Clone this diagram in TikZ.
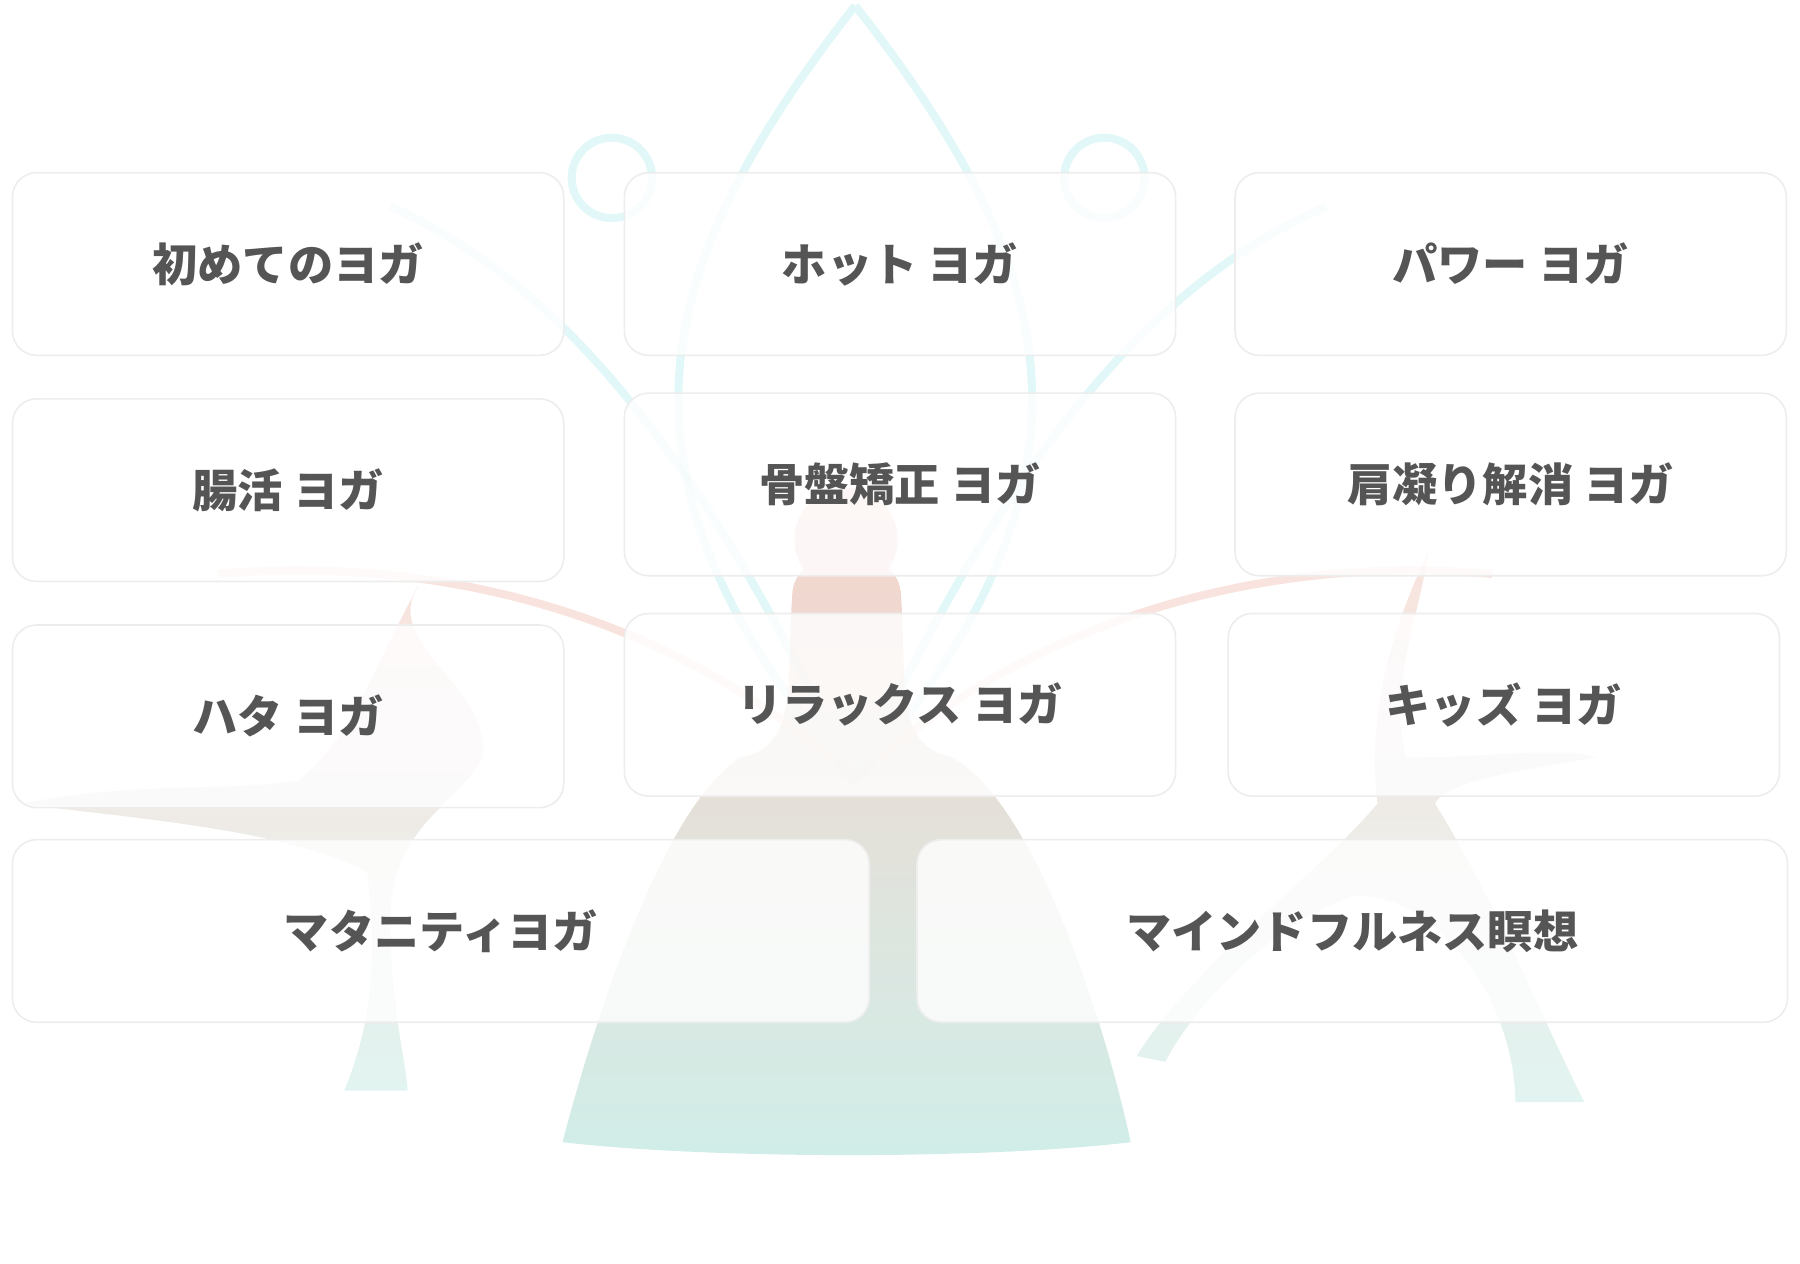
\documentclass[tikz,border=0pt]{standalone}
\usepackage{fontspec}
\newfontfamily\cjk{Noto Sans CJK JP}
\usetikzlibrary{positioning}
\definecolor{labelgray}{HTML}{555555}
\definecolor{lotusteal}{HTML}{BFEDEE}
\definecolor{figtop}{HTML}{F2C2B5}
\definecolor{figbot}{HTML}{BDE6DF}
\tikzset{
  classbox/.style={draw=black!7, fill=white, fill opacity=0.82, text opacity=1,
    rounded corners=6pt, minimum width=4.8cm, minimum height=1.59cm, inner sep=0pt,
    font=\cjk\bfseries\fontsize{11.2}{14}\selectfont, text=labelgray},
  widebox/.style={classbox, minimum width=7.46cm},
  lotus/.style={draw=lotusteal, line width=2pt, opacity=0.45}
}
\begin{document}
\begin{tikzpicture}[x=0.01cm, y=-0.01cm]
  \useasboundingbox (0,0) rectangle (1568,1101);

  % lotus outline behind
  \draw[lotus] (745,5) .. controls (560,240) and (520,420) .. (745,680)
               .. controls (970,420) and (930,240) .. (745,5);
  \draw[lotus] (340,180) .. controls (520,260) and (640,460) .. (745,680);
  \draw[lotus] (1155,180) .. controls (970,260) and (850,460) .. (745,680);
  \draw[lotus, draw=figtop] (190,500) .. controls (420,480) and (620,560) .. (745,680)
               .. controls (870,560) and (1070,480) .. (1300,500);
  \node (ringL) [lotus, draw, circle, minimum size=0.7cm] at (533,155) {};
  \node (ringR) [lotus, draw, circle, minimum size=0.7cm] at (962,155) {};

  % seated figure
  \shade[top color=figtop, bottom color=figbot, opacity=0.7]
    (737,470) circle (45)
    (690,520) .. controls (690,470) and (785,470) .. (785,520)
    .. controls (790,600) and (780,650) .. (830,660)
    .. controls (900,700) and (960,880) .. (985,995)
    .. controls (860,1010) and (620,1010) .. (490,995)
    .. controls (520,880) and (580,700) .. (645,660)
    .. controls (695,650) and (685,600) .. (690,520) -- cycle;
  % side figures
  \shade[top color=figtop, bottom color=figbot, opacity=0.45]
    (365,510) .. controls (330,560) and (430,600) .. (420,660)
    .. controls (400,700) and (340,720) .. (340,800)
    .. controls (340,880) and (355,930) .. (355,950)
    -- (300,950) .. controls (320,900) and (330,850) .. (320,760)
    .. controls (250,720) and (80,710) .. (20,700)
    .. controls (120,680) and (200,690) .. (260,680)
    .. controls (310,640) and (330,570) .. (365,510) -- cycle;
  \shade[top color=figtop, bottom color=figbot, opacity=0.45]
    (1245,480) .. controls (1230,560) and (1210,600) .. (1225,660)
    .. controls (1300,660) and (1360,650) .. (1390,660)
    .. controls (1330,670) and (1260,680) .. (1250,700)
    .. controls (1300,780) and (1340,880) .. (1380,960)
    -- (1320,960) .. controls (1320,880) and (1260,780) .. (1180,780)
    .. controls (1120,800) and (1050,860) .. (1015,925)
    -- (990,920) .. controls (1040,840) and (1150,760) .. (1200,700)
    .. controls (1190,620) and (1215,540) .. (1245,480) -- cycle;

  % class boxes
  \node (first)   [classbox] at (251,230) {初めてのヨガ};
  \node (hot)     [classbox] at (784,230) {ホット ヨガ};
  \node (power)   [classbox] at (1316,230) {パワー ヨガ};
  \node (gut)     [classbox] at (251,427) {腸活 ヨガ};
  \node (pelvis)  [classbox] at (784,422) {骨盤矯正 ヨガ};
  \node (shoulder)[classbox] at (1316,422) {肩凝り解消 ヨガ};
  \node (hatha)   [classbox] at (251,624) {ハタ ヨガ};
  \node (relax)   [classbox] at (784,614) {リラックス ヨガ};
  \node (kids)    [classbox] at (1310,614) {キッズ ヨガ};
  \node (mater)   [widebox]  at (384,811) {マタニティヨガ};
  \node (mind)    [widebox, minimum width=7.58cm] at (1178,811) {マインドフルネス瞑想};
\end{tikzpicture}
\end{document}
